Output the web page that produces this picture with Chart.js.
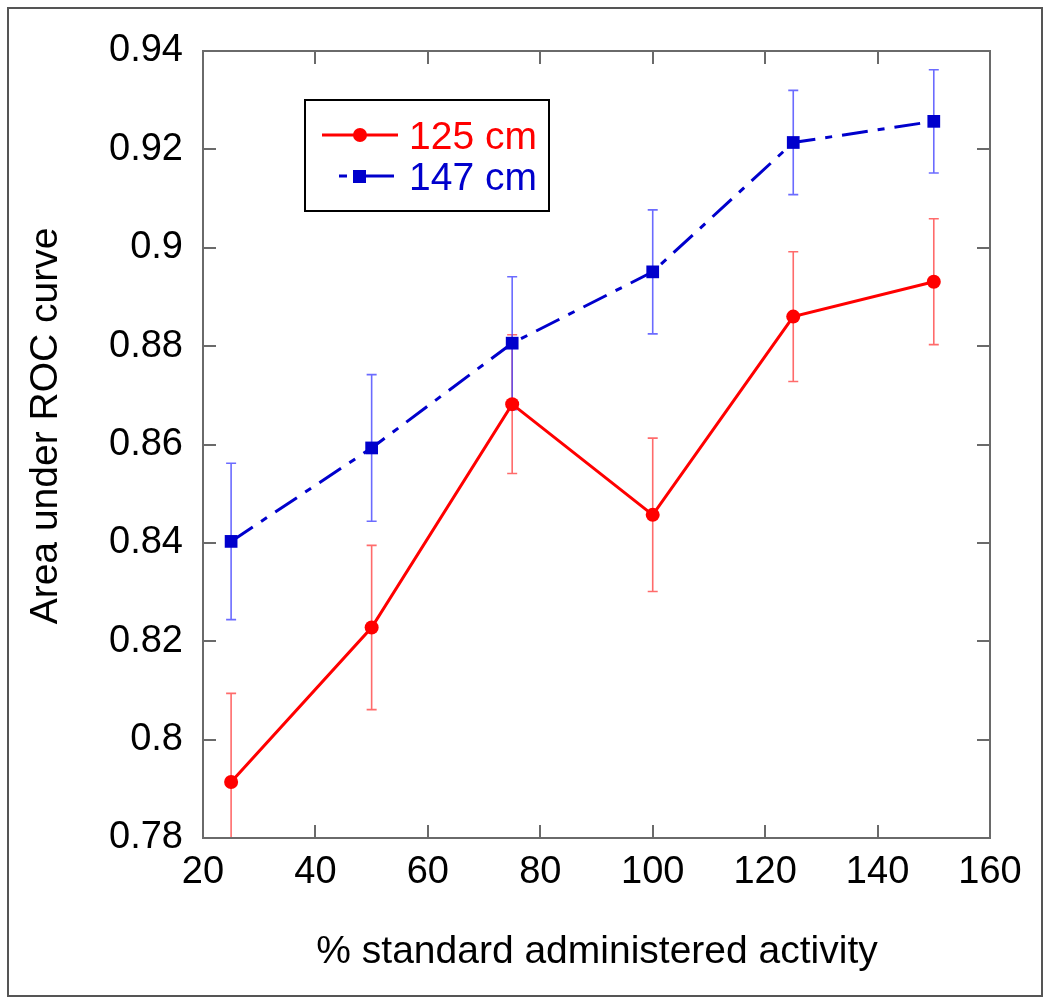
<!DOCTYPE html>
<html>
<head>
<meta charset="utf-8">
<script src="https://cdn.jsdelivr.net/npm/chart.js@4.4.0/dist/chart.umd.min.js"></script>
<style>
  html, body { margin: 0; padding: 0; background: #fff; }
  #wrap { width: 1050px; height: 1003px; position: relative; }
</style>
</head>
<body>
<div id="wrap"><canvas id="chartAuc"></canvas></div>
<script>
// Datos
const actividad = [25, 50, 75, 100, 125, 150];
const auc125 = [0.7914, 0.8228, 0.8682, 0.8457, 0.8860, 0.8931];
const err125 = [0.0180, 0.0167, 0.0141, 0.0156, 0.0132, 0.0128];
const auc147 = [0.8403, 0.8593, 0.8806, 0.8951, 0.9214, 0.9257];
const err147 = [0.0159, 0.0149, 0.0135, 0.0126, 0.0106, 0.0105];

const xTicks = [20, 40, 60, 80, 100, 120, 140, 160];
const yTicks = [0.78, 0.80, 0.82, 0.84, 0.86, 0.88, 0.90, 0.92, 0.94];
const yTickLabels = ['0.78', '0.8', '0.82', '0.84', '0.86', '0.88', '0.9', '0.92', '0.94'];

const FONT = '"Liberation Sans", Arial, sans-serif';

function puntos(valores) {
    return actividad.map((x, i) => ({ x: x, y: valores[i] }));
}

// Marco exterior y fondo
const marcoPlugin = {
    id: 'marco',
    beforeDraw(chart) {
        const ctx = chart.ctx;
        ctx.save();
        ctx.fillStyle = '#fff';
        ctx.fillRect(0, 0, chart.width, chart.height);
        ctx.strokeStyle = '#555';
        ctx.lineWidth = 2;
        ctx.strokeRect(8, 8, chart.width - 16, chart.height - 15);
        ctx.restore();
    }
};

// Barras de error, dibujadas antes de las lineas
const erroresPlugin = {
    id: 'errores',
    beforeDatasetsDraw(chart) {
        const ctx = chart.ctx;
        const xs = chart.scales.x, ys = chart.scales.y;
        const area = chart.chartArea;
        ctx.save();
        ctx.beginPath();
        ctx.rect(area.left, area.top, area.right - area.left, area.bottom - area.top);
        ctx.clip();
        chart.data.datasets.forEach(ds => {
            ctx.strokeStyle = ds.errorColor;
            ctx.lineWidth = 1.6;
            ds.data.forEach((p, i) => {
                const px = xs.getPixelForValue(p.x);
                const top = ys.getPixelForValue(p.y + ds.errores[i]);
                const bot = ys.getPixelForValue(p.y - ds.errores[i]);
                ctx.beginPath();
                ctx.moveTo(px, top); ctx.lineTo(px, bot);
                ctx.moveTo(px - 5, top); ctx.lineTo(px + 5, top);
                ctx.moveTo(px - 5, bot); ctx.lineTo(px + 5, bot);
                ctx.stroke();
            });
        });
        ctx.restore();
    }
};

// Caja de ejes con marcas hacia adentro
const cajaPlugin = {
    id: 'caja',
    afterDatasetsDraw(chart) {
        const ctx = chart.ctx;
        const a = chart.chartArea;
        const xs = chart.scales.x, ys = chart.scales.y;
        const len = 13;
        ctx.save();
        ctx.strokeStyle = '#6a6a6a';
        ctx.lineWidth = 2;
        ctx.strokeRect(a.left, a.top, a.right - a.left, a.bottom - a.top);
        ctx.beginPath();
        xTicks.forEach(v => {
            const px = Math.round(xs.getPixelForValue(v));
            ctx.moveTo(px, a.bottom); ctx.lineTo(px, a.bottom - len);
            ctx.moveTo(px, a.top); ctx.lineTo(px, a.top + len);
        });
        yTicks.forEach(v => {
            const py = Math.round(ys.getPixelForValue(v));
            ctx.moveTo(a.left, py); ctx.lineTo(a.left + len, py);
            ctx.moveTo(a.right, py); ctx.lineTo(a.right - len, py);
        });
        ctx.stroke();
        ctx.restore();
    }
};

// Leyenda en recuadro y titulos de ejes
const leyendaPlugin = {
    id: 'leyenda',
    afterDraw(chart) {
        const ctx = chart.ctx;
        const [dsRojo, dsAzul] = chart.data.datasets;
        ctx.save();
        ctx.strokeStyle = '#000';
        ctx.lineWidth = 2;
        ctx.strokeRect(305, 100, 244, 111);

        // 125 cm
        ctx.strokeStyle = dsRojo.borderColor;
        ctx.lineWidth = 3;
        ctx.beginPath(); ctx.moveTo(322, 135); ctx.lineTo(398, 135); ctx.stroke();
        ctx.fillStyle = dsRojo.borderColor;
        ctx.beginPath(); ctx.arc(360, 135, 7, 0, Math.PI * 2); ctx.fill();

        // 147 cm
        ctx.strokeStyle = dsAzul.borderColor;
        ctx.beginPath();
        ctx.moveTo(339, 176); ctx.lineTo(347, 176);
        ctx.moveTo(353, 176); ctx.lineTo(394, 176);
        ctx.stroke();
        ctx.fillStyle = dsAzul.borderColor;
        ctx.fillRect(353, 170, 13, 13);

        ctx.font = '39px ' + FONT;
        ctx.textBaseline = 'alphabetic';
        ctx.textAlign = 'left';
        ctx.fillStyle = dsRojo.borderColor;
        ctx.fillText(dsRojo.label, 409, 149);
        ctx.fillStyle = dsAzul.borderColor;
        ctx.fillText(dsAzul.label, 409, 190);

        // titulos
        ctx.fillStyle = '#000';
        ctx.textAlign = 'center';
        ctx.textBaseline = 'middle';
        ctx.fillText('% standard administered activity', 597, 952);
        ctx.translate(46, 426);
        ctx.rotate(-Math.PI / 2);
        ctx.fillText('Area under ROC curve', 0, 0);
        ctx.restore();
    }
};

function crearGrafica() {
    const ctx = document.getElementById('chartAuc').getContext('2d');
    new Chart(ctx, {
        type: 'line',
        data: {
            datasets: [
                {
                    label: '125 cm',
                    data: puntos(auc125),
                    errores: err125,
                    errorColor: 'rgba(255, 70, 70, 0.8)',
                    borderColor: '#ff0000',
                    backgroundColor: '#ff0000',
                    borderWidth: 3,
                    pointStyle: 'circle',
                    pointRadius: 7,
                    pointBorderWidth: 0,
                    pointBackgroundColor: '#ff0000',
                    tension: 0
                },
                {
                    label: '147 cm',
                    data: puntos(auc147),
                    errores: err147,
                    errorColor: 'rgba(70, 70, 255, 0.8)',
                    borderColor: '#0000cc',
                    backgroundColor: '#0000cc',
                    borderWidth: 3,
                    borderDash: [26, 10, 7, 10],
                    pointStyle: 'rect',
                    pointRadius: 9,
                    pointBorderWidth: 0,
                    pointBackgroundColor: '#0000cc',
                    tension: 0
                }
            ]
        },
        options: {
            responsive: true,
            maintainAspectRatio: false,
            animation: false,
            devicePixelRatio: 1,
            layout: { padding: { top: 51, right: 60, left: 0, bottom: 0 } },
            plugins: {
                legend: { display: false },
                tooltip: { enabled: false }
            },
            scales: {
                x: {
                    type: 'linear',
                    min: 20,
                    max: 160,
                    afterBuildTicks: s => { s.ticks = xTicks.map(v => ({ value: v })); },
                    afterFit: s => { s.height = 165; },
                    grid: { display: false, drawTicks: false },
                    border: { display: false },
                    ticks: {
                        padding: 12,
                        color: '#000',
                        maxRotation: 0,
                        autoSkip: false,
                        font: { size: 38, family: FONT },
                        callback: v => String(v)
                    }
                },
                y: {
                    type: 'linear',
                    min: 0.78,
                    max: 0.94,
                    afterBuildTicks: s => { s.ticks = yTicks.map(v => ({ value: v })); },
                    afterFit: s => { s.width = 203; },
                    grid: { display: false, drawTicks: false },
                    border: { display: false },
                    ticks: {
                        padding: 20,
                        color: '#000',
                        autoSkip: false,
                        font: { size: 38, family: FONT },
                        callback: (v, i) => yTickLabels[i]
                    }
                }
            }
        },
        plugins: [marcoPlugin, erroresPlugin, cajaPlugin, leyendaPlugin]
    });
}

document.addEventListener('DOMContentLoaded', crearGrafica);
</script>
</body>
</html>
